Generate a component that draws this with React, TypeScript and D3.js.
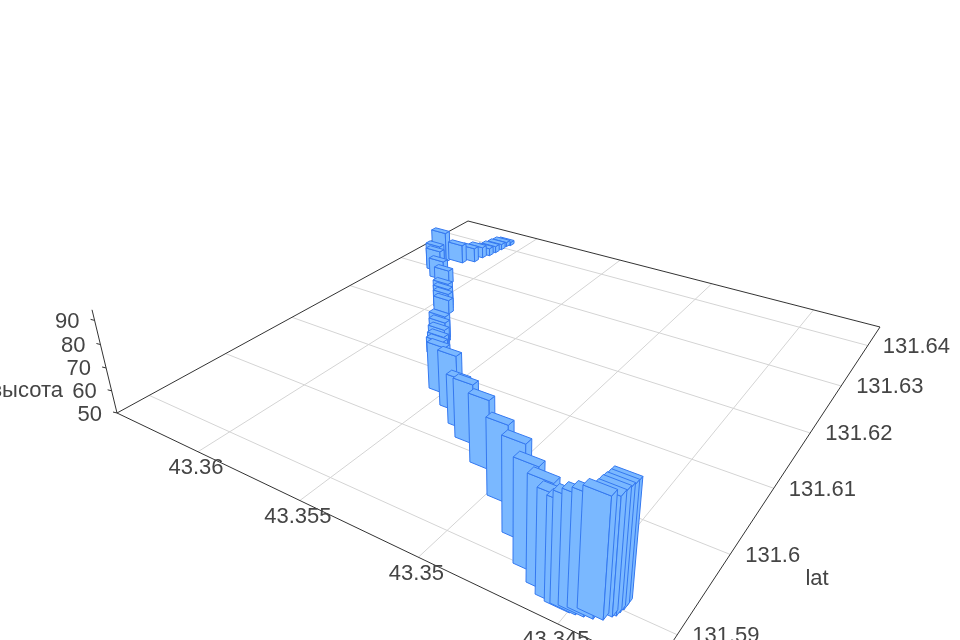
import React from "react";
import * as d3 from "d3";

const lonTicks = [43.36, 43.355, 43.35, 43.345];
const latTicks = [131.59, 131.6, 131.61, 131.62, 131.63, 131.64];
const latLabels = ["131.59", "131.6", "131.61", "131.62", "131.63", "131.64"];
const zTicks = [50, 60, 70, 80, 90];

const lons = [
  43.36112, 43.36122, 43.36122, 43.36126, 43.36131, 43.36146, 43.36152, 43.36196,
  43.36272, 43.36245, 43.36223, 43.36154, 43.36106, 43.35979, 43.3596, 43.35942, 43.35923, 43.35788,
  43.35772, 43.35748, 43.35725, 43.35708, 43.35526, 43.35416, 43.35316, 43.35241, 43.35107, 43.34952,
  43.34806, 43.34699, 43.34622, 43.34573, 43.34536, 43.34518, 43.34494, 43.34468, 43.34442, 43.34426,
  43.34418, 43.34415, 43.34411, 43.34411,
];
const lats = [
  131.6416, 131.64102, 131.63981, 131.63855, 131.6373, 131.63626, 131.63464, 131.63352,
  131.63262, 131.63046, 131.62973, 131.62805, 131.62747, 131.623, 131.62237, 131.62175, 131.62114, 131.61586,
  131.61531, 131.61435, 131.61341, 131.61265, 131.60696, 131.60505, 131.60295, 131.60145, 131.59904, 131.596,
  131.59273, 131.59017, 131.58897, 131.58827, 131.58803, 131.5881, 131.58825, 131.58844, 131.58876, 131.58939,
  131.58964, 131.59007, 131.59051, 131.59099,
];
const heights = [
  51.7, 52.3, 52.9, 53.4, 53.9, 55.6, 57.2, 59.4,
  65.5, 62.0, 60.9, 59.7, 57.0, 60.4, 59.3, 58.3, 56.7, 61.4,
  59.9, 58.8, 57.8, 57.3, 71.0, 74.5, 71.5, 75.4, 78.8, 81.5,
  87.6, 90.0, 90.5, 89.5, 89.0, 91.3, 92.6, 93.6, 94.6, 93.6,
  94.7, 94.7, 94.8, 94.6,
];

const H = { a: 343.2, b: 569, c: 117, d: 58.5, e: -89, f: 413, g: -0.2963, h: 0.4659, i: -30.5, j: -121.8, k: -0.06 };
const lonU = d3.scaleLinear().domain([43.36454, 43.342]).range([0, 1]);
const latV = d3.scaleLinear().domain([131.5862, 131.6451]).range([0, 1]);
const zT = d3.scaleLinear().domain([50, 94.3]).range([0, 1]);
const du = 0.038, dv = 0.0146;
function pr(u: number, v: number, t: number): [number, number] {
  const w = H.g * u + H.h * v + 1 + H.k * t;
  return [(H.a * u + H.b * v + H.c + H.i * t) / w, (H.d * u + H.e * v + H.f + H.j * t) / w];
}
const poly = (pts: [number, number][]) => pts.map((p) => p.map((n) => n.toFixed(1)).join(",")).join(" ");

export default function App() {
  const order = d3.range(lons.length).sort((a, b) => {
    const wf = (i: number) => H.g * lonU(lons[i]) + H.h * latV(lats[i]);
    return wf(b) - wf(a);
  });
  const line = (a: [number, number], b: [number, number], s: string, k: string) => (
    <line key={k} x1={a[0]} y1={a[1]} x2={b[0]} y2={b[1]} stroke={s} />
  );
  const O = pr(0, 0, 0);
  return (
    <svg width={960} height={640} style={{ position: "absolute", left: 0, top: 0 }} fontFamily="Liberation Sans" fontSize={22} fill="#444">
      <defs><filter id="soft" x="-2%" y="-2%" width="104%" height="104%"><feGaussianBlur stdDeviation="0.5" /></filter></defs>
      <g filter="url(#soft)">
      {lonTicks.map((t) => line(pr(lonU(t), 0, 0), pr(lonU(t), 1, 0), "#d4d4d4", "a" + t))}
      {latTicks.map((t) => line(pr(0, latV(t), 0), pr(1, latV(t), 0), "#d4d4d4", "b" + t))}
      <polygon points={poly([pr(0, 0, 0), pr(1, 0, 0), pr(1, 1, 0), pr(0, 1, 0)])} fill="none" stroke="#333" />
      {line(O, pr(0, 0, 1), "#333", "z")}
      {zTicks.map((z) => {
        const p = pr(0, 0, zT(z));
        return (
          <g key={z}>
            <line x1={p[0] - 4} y1={p[1] - 1} x2={p[0]} y2={p[1]} stroke="#333" />
            <text x={p[0] - 15} y={p[1]} textAnchor="end" dominantBaseline="central">{z}</text>
          </g>
        );
      })}
      <text x={63} y={389} textAnchor="end" dominantBaseline="central">высота</text>
      {lonTicks.map((t) => {
        const p = pr(lonU(t), 0, 0);
        return <text key={t} x={p[0] - 2} y={p[1] + 15} textAnchor="middle" dominantBaseline="central">{t}</text>;
      })}
      {latTicks.map((t, i) => {
        const p = pr(1, latV(t), 0);
        return <text key={t} x={p[0] + 15} y={p[1]} dominantBaseline="central">{latLabels[i]}</text>;
      })}
      <text x={817} y={577} textAnchor="middle" dominantBaseline="central">lat</text>
      {order.map((i) => {
        const u = lonU(lons[i]), v = latV(lats[i]), t = zT(heights[i]);
        const u0 = u - du / 2, u1 = u + du / 2, v0 = v - dv / 2, v1 = v + dv / 2;
        return (
          <g key={i} fill="#7ab8ff" stroke="#3478f0" strokeWidth={1}>
            <polygon points={poly([pr(u0, v0, 0), pr(u1, v0, 0), pr(u1, v0, t), pr(u0, v0, t)])} />
            <polygon points={poly([pr(u1, v0, 0), pr(u1, v1, 0), pr(u1, v1, t), pr(u1, v0, t)])} />
            <polygon points={poly([pr(u0, v0, t), pr(u1, v0, t), pr(u1, v1, t), pr(u0, v1, t)])} />
          </g>
        );
      })}
      </g>
    </svg>
  );
}
